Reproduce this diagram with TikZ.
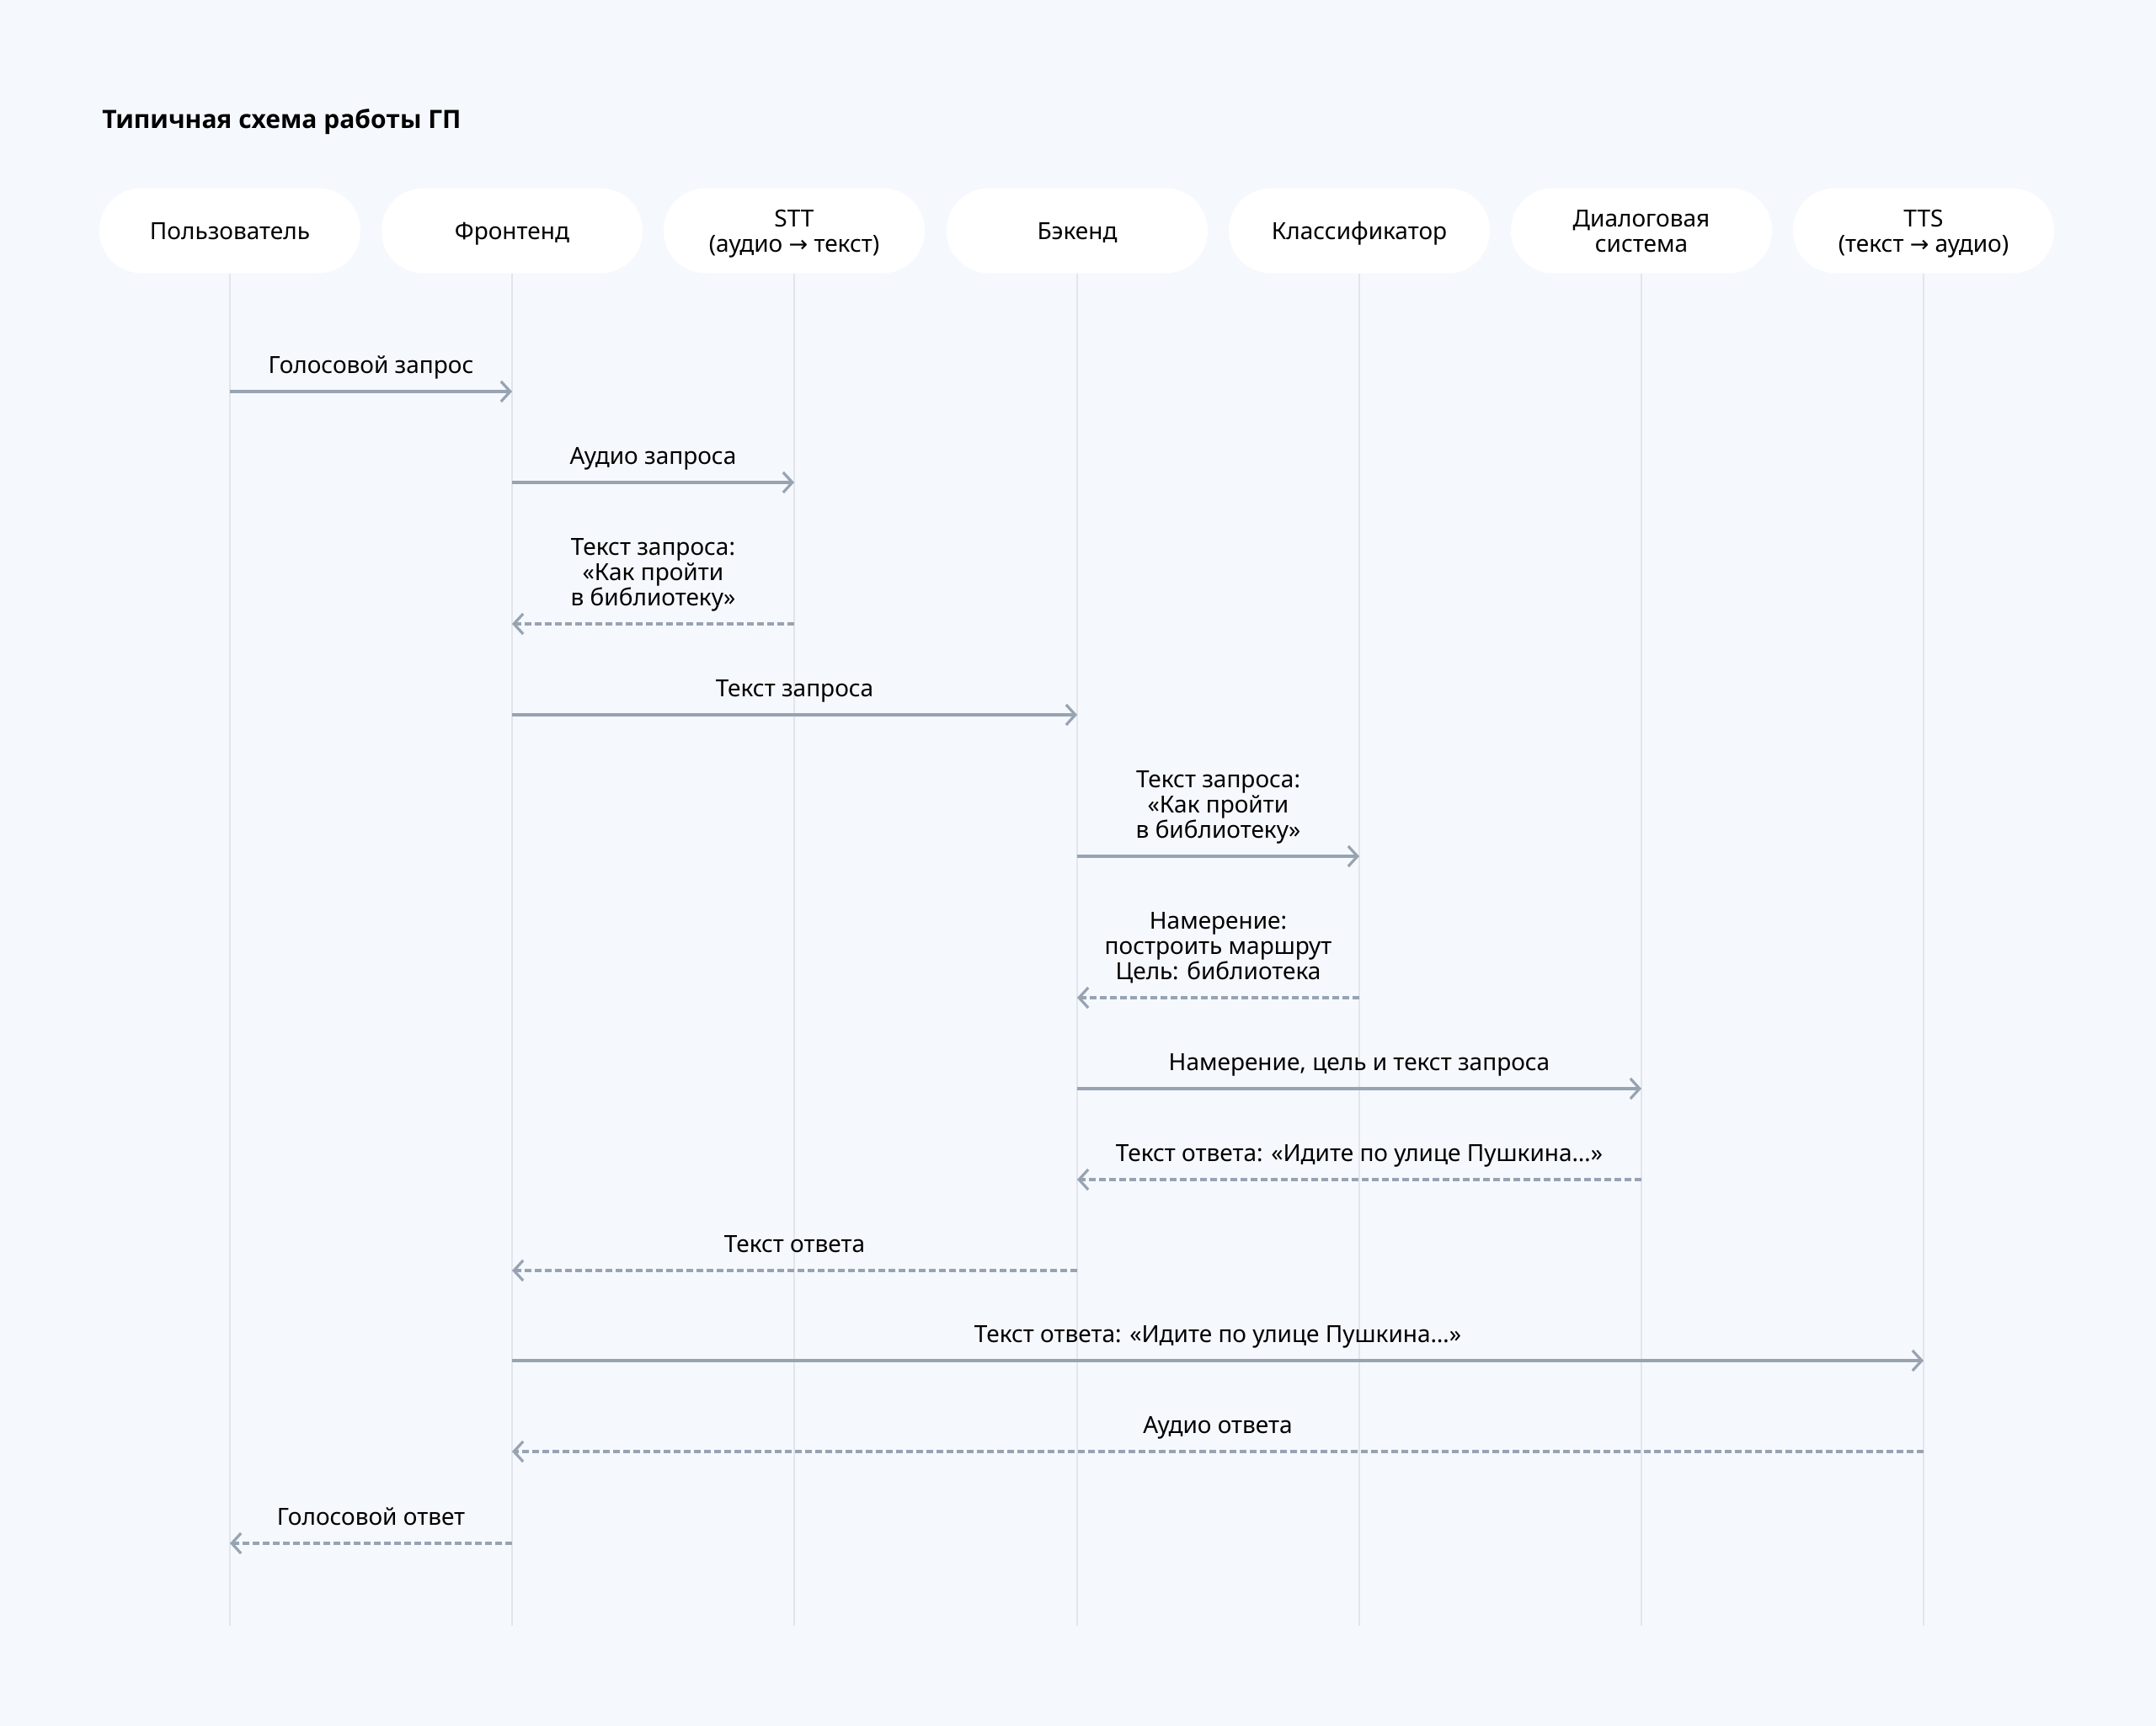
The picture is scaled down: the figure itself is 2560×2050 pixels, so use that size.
\documentclass[tikz,border=0pt]{standalone}
\usepackage{fontspec}
\setmainfont{Noto Sans}
\newfontfamily\zagfont{Open Sans}
\newfontfamily\strfont{DejaVu Sans}
\usetikzlibrary{arrows.meta}

\definecolor{fon}{HTML}{F5F8FD}
\definecolor{liniya}{HTML}{E2E6EC}
\definecolor{strelka}{HTML}{98A3B2}

\newcommand{\str}{{\strfont\fontsize{13.5}{15}\selectfont →}}

\tikzset{
  uchastnik/.style={fill=white, rounded corners=25pt, minimum width=155pt,
    minimum height=50.5pt, align=center, inner sep=0pt,
    text height=10pt, text depth=0pt,
    font=\fontsize{14}{15}\selectfont},
  dvestroki/.style={text height=25pt, text depth=0pt},
  zhizn/.style={draw=liniya, line width=1pt},
  soobsh/.style={draw=strelka, line width=1.6pt,
    -{Straight Barb[length=5.5pt,width=12pt,line width=1.6pt]}},
  otvet/.style={soobsh, dash pattern=on 3.8pt off 2.2pt},
  podpis/.style={above=6.4pt, inner sep=0pt, text depth=3.5pt, align=center,
    font=\fontsize{14}{15}\selectfont},
}

\begin{document}
\begin{tikzpicture}[x=0.5pt, y=-0.5pt]
  % фон
  \fill[fon] (0,0) rectangle (2560,2050);
  \useasboundingbox (0,0) rectangle (2560,2050);

  % заголовок
  \node[anchor=base west, inner sep=0pt, font=\zagfont\bfseries\fontsize{15}{18}\selectfont]
    (zag) at (121,153) {Типичная схема работы ГП};

  % участники
  \node[uchastnik] (p1) at (273,274) {Пользователь};
  \node[uchastnik] (p2) at (608,274) {Фронтенд};
  \node[uchastnik, dvestroki] (p3) at (943,274) {STT\\(аудио \str{} текст)};
  \node[uchastnik] (p4) at (1279,274) {Бэкенд};
  \node[uchastnik] (p5) at (1614,274) {Классификатор};
  \node[uchastnik, dvestroki] (p6) at (1949,274) {Диалоговая\\система};
  \node[uchastnik, dvestroki] (p7) at (2284,274) {TTS\\(текст \str{} аудио)};

  % линии жизни
  \draw[zhizn] (p1.south) -- (p1 |- 0,1931);
  \draw[zhizn] (p2.south) -- (p2 |- 0,1931);
  \draw[zhizn] (p3.south) -- (p3 |- 0,1931);
  \draw[zhizn] (p4.south) -- (p4 |- 0,1931);
  \draw[zhizn] (p5.south) -- (p5 |- 0,1931);
  \draw[zhizn] (p6.south) -- (p6 |- 0,1931);
  \draw[zhizn] (p7.south) -- (p7 |- 0,1931);

  % запрос
  \draw[soobsh] (p1 |- 0,465) -- node[podpis] {Голосовой запрос} (p2 |- 0,465);
  \draw[soobsh] (p2 |- 0,573) -- node[podpis] {Аудио запроса} (p3 |- 0,573);
  \draw[otvet] (p3 |- 0,741) -- node[podpis] {Текст запроса:\\«Как пройти\\в библиотеку»} (p2 |- 0,741);
  \draw[soobsh] (p2 |- 0,849) -- node[podpis] {Текст запроса} (p4 |- 0,849);
  \draw[soobsh] (p4 |- 0,1017) -- node[podpis] {Текст запроса:\\«Как пройти\\в библиотеку»} (p5 |- 0,1017);
  \draw[otvet] (p5 |- 0,1185) -- node[podpis] {Намерение:\\построить маршрут\\Цель: библиотека} (p4 |- 0,1185);

  % ответ
  \draw[soobsh] (p4 |- 0,1293) -- node[podpis] {Намерение, цель и текст запроса} (p6 |- 0,1293);
  \draw[otvet] (p6 |- 0,1401) -- node[podpis] {Текст ответа: «Идите по улице Пушкина…»} (p4 |- 0,1401);
  \draw[otvet] (p4 |- 0,1509) -- node[podpis] {Текст ответа} (p2 |- 0,1509);
  \draw[soobsh] (p2 |- 0,1616) -- node[podpis] {Текст ответа: «Идите по улице Пушкина…»} (p7 |- 0,1616);
  \draw[otvet] (p7 |- 0,1724) -- node[podpis] {Аудио ответа} (p2 |- 0,1724);
  \draw[otvet] (p2 |- 0,1833) -- node[podpis] {Голосовой ответ} (p1 |- 0,1833);
\end{tikzpicture}
\end{document}
